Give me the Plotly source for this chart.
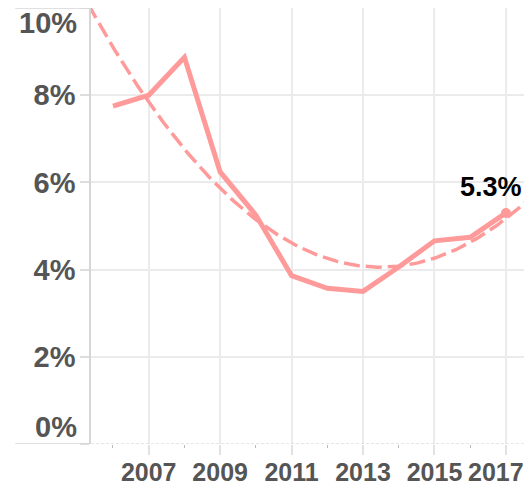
import numpy as np
import plotly.graph_objects as go

years = [2006, 2007, 2008, 2009, 2010, 2011, 2012, 2013, 2014, 2015, 2016, 2017]
rates = [7.75, 8.0, 8.87, 6.24, 5.25, 3.86, 3.57, 3.5, 4.06, 4.66, 4.74, 5.3]
x_tick_years = [2007, 2009, 2011, 2013, 2015, 2017]
x_tick_text = ["2007", "2009", "2011", "2013", "2015", ""]
minor_years = [2006, 2008, 2010, 2012, 2014, 2016]
y_ticks = [0, 2, 4, 6, 8, 10]
y_tick_text = ["", "2%", "4%", "6%", "8%", ""]
last_label = "5.3%"

COLOR = "#ff9a9a"
GRID = "#ebebeb"
FONT = "Liberation Sans, Arial, sans-serif"
LABEL = "#555555"

# quadratic least-squares trend of the data
coef = np.polyfit(np.array(years, dtype=float) - 2011.5, rates, 2)
tx = np.linspace(2005.3, 2017.8, 200)
ty = np.polyval(coef, tx - 2011.5)

fig = go.Figure()
fig.add_trace(go.Scatter(x=tx, y=ty, mode="lines",
                         line=dict(color=COLOR, width=3.5, dash="16px,6px"),
                         hoverinfo="skip", showlegend=False))
fig.add_trace(go.Scatter(x=years, y=rates, mode="lines",
                         line=dict(color=COLOR, width=5),
                         showlegend=False))
fig.add_trace(go.Scatter(x=[years[-1]], y=[rates[-1]], mode="markers",
                         marker=dict(color=COLOR, size=10),
                         showlegend=False))

# page body has an 8px margin, so the figure is drawn 8px smaller
fig.update_layout(
    width=524, height=479,
    margin=dict(l=83, r=0, t=0, b=43, autoexpand=False),
    plot_bgcolor="white", paper_bgcolor="white",
    font=dict(family=FONT),
    xaxis=dict(
        range=[2005.385, 2017.73], automargin=False,
        tickvals=x_tick_years, ticktext=x_tick_text,
        showgrid=True, gridcolor=GRID, gridwidth=1.5,
        ticks="outside", ticklen=10, tickcolor="#e2e2e2", tickwidth=1.5,
        tickfont=dict(size=25, color=LABEL, family=FONT, weight="bold"),
        ticklabelstandoff=-4,
        showline=False, zeroline=False,
        minor=dict(tickvals=minor_years, ticks="outside", ticklen=3,
                   tickcolor="#bbbbbb", tickwidth=1, showgrid=False),
    ),
    yaxis=dict(
        range=[0, 10], automargin=False,
        tickvals=y_ticks, ticktext=y_tick_text,
        showgrid=True, gridcolor=GRID, gridwidth=1.5,
        ticks="outside", ticklen=9, tickcolor="#dddddd", tickwidth=1.5,
        tickfont=dict(size=29, color=LABEL, family=FONT, weight="bold"),
        ticklabelstandoff=-1,
        showline=True, linecolor="#d6d6d6", linewidth=1.5,
        zeroline=False,
    ),
)

# left extensions of top and bottom lines
for yv in (0, 10):
    fig.add_shape(type="line", xref="paper", yref="y", x0=-0.172, x1=0,
                  y0=yv, y1=yv, line=dict(color="#d6d6d6", width=1.5))
# dashed baseline inside plot
fig.add_shape(type="line", xref="paper", yref="y", x0=0, x1=0.989,
              y0=0, y1=0, line=dict(color="#cfcfcf", width=1, dash="3px,2px"))
# right border
fig.add_shape(type="line", xref="paper", yref="y", x0=0.989, x1=0.989,
              y0=0, y1=10, line=dict(color="#e2e2e2", width=1.5))

# end labels for y
fig.add_annotation(x=0, xref="paper", y=10, yref="y", text="10%", showarrow=False,
                   xanchor="right", yanchor="middle", xshift=-12, yshift=-15,
                   font=dict(size=29, color=LABEL, family=FONT, weight="bold"))
fig.add_annotation(x=0, xref="paper", y=0, yref="y", text="0%", showarrow=False,
                   xanchor="right", yanchor="middle", xshift=-12, yshift=17,
                   font=dict(size=29, color=LABEL, family=FONT, weight="bold"))
# 2017 x label, shifted to stay inside
fig.add_annotation(x=2017, xref="x", y=0, yref="y", text="2017", showarrow=False,
                   xanchor="center", yanchor="middle", xshift=-10, yshift=-28,
                   font=dict(size=25, color=LABEL, family=FONT, weight="bold"))
# value label
fig.add_annotation(x=years[-1], y=rates[-1], text=last_label, showarrow=False,
                   xanchor="center", yanchor="middle", xshift=-15, yshift=26,
                   font=dict(size=27, color="black", family=FONT, weight="bold"))

fig.write_html("out.html")
